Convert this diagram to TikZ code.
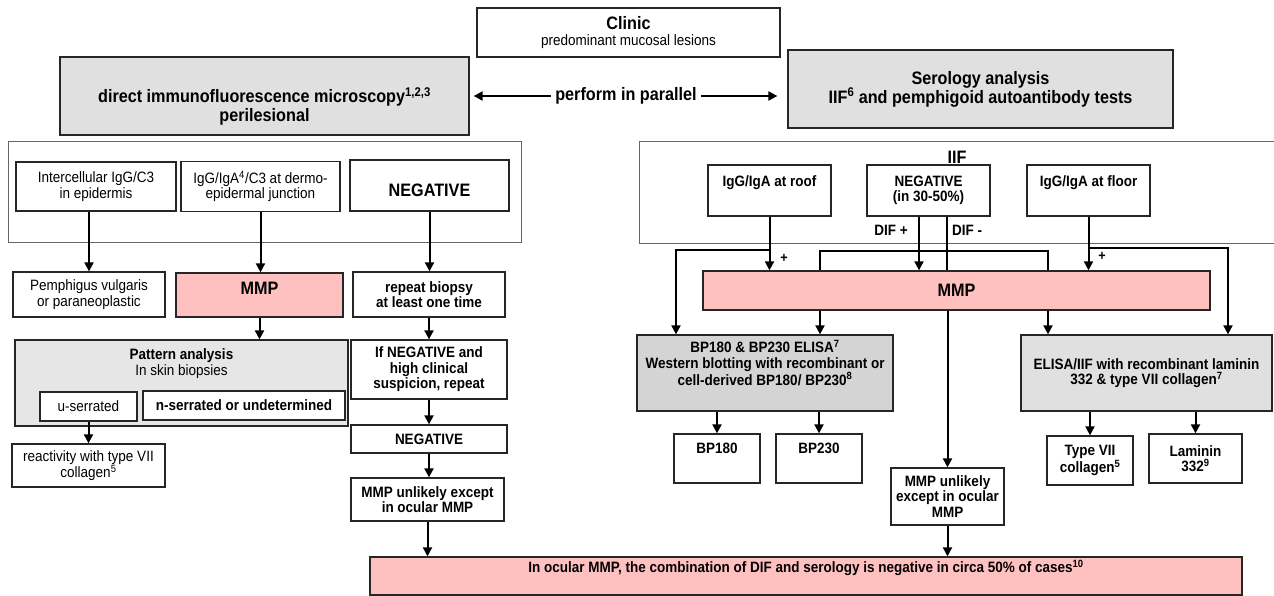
\documentclass[tikz,border=0pt]{standalone}
\usepackage{fontspec}
\setmainfont{Liberation Sans}[FakeStretch=0.9]
\usepackage{xcolor}
\usetikzlibrary{arrows.meta,positioning}
\definecolor{mmppink}{RGB}{255,192,192}
\definecolor{boxgrey}{RGB}{224,224,224}
\definecolor{patgrey}{RGB}{230,230,230}
\definecolor{darkgrey}{RGB}{212,212,212}
\newcommand{\fsn}{\fontsize{15bp}{15.5bp}\selectfont}
\newcommand{\fsl}{\fontsize{18bp}{19bp}\selectfont}
\newcommand{\fss}{\fontsize{14bp}{15bp}\selectfont}

\begin{document}
\begin{tikzpicture}[
  box/.style={draw=black!85,line width=1.3bp,fill=white,inner sep=0pt,align=center,font=\fsn},
  sz/.style 2 args={minimum width=#1bp,minimum height=#2bp},
  frame/.style={draw=black!60,line width=1bp},
  wire/.style={line width=2bp},
  arr/.style={wire,-{Triangle[length=9bp,width=9bp]}}]
\useasboundingbox (0bp,0bp) rectangle (1274bp,-596bp);

% top row
\node (clinic) at (628.5bp,-32.5bp)[box,sz={303}{49}] {{\fsl\bfseries Clinic}\\predominant mucosal lesions};
\node (dif) at (264.5bp,-96bp)[box,sz={409}{78},fill=boxgrey,font=\fsl\bfseries,text height=55bp,text depth=4bp] {direct immunofluorescence microscopy\textsuperscript{1,2,3}\\perilesional};
\node (sero) at (980.5bp,-89bp)[box,sz={385}{78},fill=boxgrey,font=\fsl\bfseries,align=center] {Serology analysis\\IIF\textsuperscript{6} and pemphigoid autoantibody tests};
\node (par) at (626bp,-96bp)[inner sep=4bp,font=\fsl\bfseries] {perform in parallel};
\draw [arr,shorten >=4bp] (par.west) -- (par.west -| dif.east);
\draw [arr,shorten >=10bp] (par.east) -- (par.east -| sero.west);

% frames
\draw [frame] (8bp,-141bp) rectangle (521bp,-242bp);
\draw [frame] (1274bp,-141bp) -- (639bp,-141bp) -- (639bp,-243bp) -- (1274bp,-243bp);

% left branch
\node (inter) at (96bp,-186.5bp)[box,sz={160}{49}] {Intercellular IgG/C3\\in epidermis};
\node (igg) at (260.5bp,-186.5bp)[box,sz={159}{50}] {IgG/IgA\textsuperscript{4}/C3 at dermo-\\epidermal junction};
\node (negL) at (429.5bp,-185.5bp)[box,sz={159}{51},font=\fsl\bfseries,text height=22bp,text depth=0bp] {NEGATIVE};
\node (pemph) at (89bp,-294.5bp)[box,sz={152}{45}] {Pemphigus vulgaris\\or paraneoplastic};
\node (mmpL) at (259.5bp,-295bp)[box,sz={167}{44},fill=mmppink,font=\fsl\bfseries,text height=13bp,text depth=14bp] {MMP};
\node (repeat) at (429bp,-294.5bp)[box,sz={152}{45},font=\fsn\bfseries] {repeat biopsy\\at least one time};
\node (pattern) at (181.5bp,-383bp)[box,sz={333}{86},fill=patgrey,text height=26.5bp,text depth=42.5bp] {\textbf{Pattern analysis}\\In skin biopsies};
\node (userr) at (88.5bp,-406.5bp)[box,sz={97}{29}] {u-serrated};
\node (nserr) at (244bp,-405.5bp)[box,sz={202}{29},font=\fsn\bfseries] {n-serrated or undetermined};
\node (react) at (88.5bp,-465.5bp)[box,sz={153}{43}] {reactivity with type VII\\collagen\textsuperscript{5}};
\node (ifneg) at (429bp,-369.5bp)[box,sz={156}{59},font=\fsn\bfseries] {If NEGATIVE and\\high clinical\\suspicion, repeat};
\node (negL2) at (429bp,-439bp)[box,sz={156}{28},font=\fsn\bfseries] {NEGATIVE};
\node (unlikelyL) at (427.5bp,-499.5bp)[box,sz={153}{43},font=\fsn\bfseries] {MMP unlikely except\\in ocular MMP};

\draw [arr] (pemph.north |- inter.south) -- (pemph.north);
\draw [arr] (igg.south) -- (igg.south |- mmpL.north);
\draw [arr] (negL.south) -- (negL.south |- repeat.north);
\draw [arr] (mmpL.south) -- (mmpL.south |- pattern.north);
\draw [arr] (repeat.south) -- (ifneg.north);
\draw [arr] (ifneg.south) -- (negL2.north);
\draw [arr] (negL2.south) -- (negL2.south |- unlikelyL.north);
\draw [arr] (userr.south) -- (userr.south |- react.north);

% right branch
\node (iif) at (957bp,-157bp)[font=\fsl\bfseries,inner sep=0pt] {IIF};
\node (roof) at (769.5bp,-190.5bp)[box,sz={123}{51},font=\fsn\bfseries,text height=11bp,text depth=20bp] {IgG/IgA at roof};
\node (negR) at (928.5bp,-190.5bp)[box,sz={123}{51},font=\fsn\bfseries] {NEGATIVE\\(in 30-50\%)};
\node (floor) at (1088.5bp,-190.5bp)[box,sz={123}{51},font=\fsn\bfseries,text height=11bp,text depth=20bp] {IgG/IgA at floor};
\node (difplus) at (891bp,-230bp)[font=\fsn\bfseries,inner sep=0pt] {DIF +};
\node (difminus) at (967bp,-230bp)[font=\fsn\bfseries,inner sep=0pt] {DIF -};
\node (mmpR) at (956.5bp,-290.5bp)[box,sz={507}{39},fill=mmppink,font=\fsl\bfseries] {MMP};
\node (plusroof) at (784bp,-258bp)[font=\fss\bfseries,inner sep=0pt] {+};
\node (plusfloor) at (1102bp,-256bp)[font=\fss\bfseries,inner sep=0pt] {+};
\node (bpelisa) at (765bp,-373bp)[box,sz={256}{76},fill=darkgrey,font=\fsn\bfseries,text height=42bp,text depth=18bp] {BP180 \& BP230 ELISA\textsuperscript{7}\\Western blotting with recombinant or\\cell-derived BP180/ BP230\textsuperscript{8}};
\node (elisa) at (1146.5bp,-373bp)[box,sz={251}{76},fill=boxgrey,font=\fsn\bfseries] {ELISA/IIF with recombinant laminin\\332 \& type VII collagen\textsuperscript{7}};
\node (bp180) at (717bp,-458.5bp)[box,sz={86}{49},font=\fsn\bfseries,text height=11bp,text depth=22bp] {BP180};
\node (bp230) at (819bp,-458.5bp)[box,sz={86}{49},font=\fsn\bfseries,text height=11bp,text depth=22bp] {BP230};
\node (typeVII) at (1090bp,-460.5bp)[box,sz={86}{49},font=\fsn\bfseries] {Type VII\\collagen\textsuperscript{5}};
\node (laminin) at (1195.5bp,-458.5bp)[box,sz={93}{49},font=\fsn\bfseries] {Laminin\\332\textsuperscript{9}};
\node (unlikelyR) at (947.5bp,-496.5bp)[box,sz={113}{57},font=\fsn\bfseries] {MMP unlikely\\except in ocular\\MMP};
\node (final) at (806bp,-576bp)[box,sz={872}{38},fill=mmppink,font=\fsn\bfseries,text height=11bp,text depth=18bp] {In ocular MMP, the combination of DIF and serology is negative in circa 50\% of cases\textsuperscript{10}};

\coordinate (rl) at (676bp,-250bp);
\coordinate (bl) at (820bp,-251bp);
\coordinate (br) at (1048bp,-251bp);
\coordinate (fr) at (1228bp,-248bp);

\draw [arr] (roof.south) -- (roof.south |- mmpR.north);
\draw [arr] (roof.south |- rl) -- (rl) -- (rl |- bpelisa.north);
\draw [arr] ([xshift=-9.5bp]negR.south) -- ([xshift=-9.5bp]negR.south |- mmpR.north);
\draw [wire] ([xshift=18.5bp]negR.south) -- ([xshift=18.5bp]negR.south |- mmpR.north);
\draw [arr] (unlikelyR.north |- mmpR.south) -- (unlikelyR.north);
\draw [wire] (bl |- mmpR.north) -- (bl) -- (br) -- (br |- mmpR.north);
\draw [arr] (bl |- mmpR.south) -- (bl |- bpelisa.north);
\draw [arr] (br |- mmpR.south) -- (br |- elisa.north);
\draw [arr] (floor.south) -- (floor.south |- mmpR.north);
\draw [arr] (floor.south |- fr) -- (fr) -- (fr |- elisa.north);
\draw [arr] (bp180.north |- bpelisa.south) -- (bp180.north);
\draw [arr] (bp230.north |- bpelisa.south) -- (bp230.north);
\draw [arr] (typeVII.north |- elisa.south) -- (typeVII.north);
\draw [arr] (laminin.north |- elisa.south) -- (laminin.north);

% bottom
\draw [arr] (unlikelyL.south) -- (unlikelyL.south |- final.north);
\draw [arr] (unlikelyR.south) -- (unlikelyR.south |- final.north);
\end{tikzpicture}
\end{document}
